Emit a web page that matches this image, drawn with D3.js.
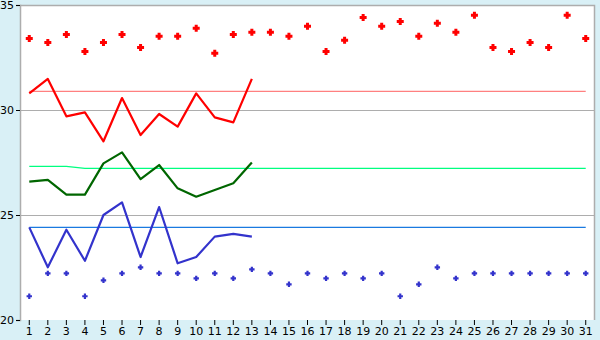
<!DOCTYPE html>
<html>
<head>
<meta charset="utf-8">
<script src="https://cdn.jsdelivr.net/npm/d3@7"></script>
<style>
  body { margin: 0; background: #d9f0f6; }
  svg { display: block; }
  .tick text { font-family: "DejaVu Sans", Verdana, sans-serif; font-size: 11px; fill: #000; }
</style>
</head>
<body>
<div class="chart"></div>
<script>
// days 1..31
var days = d3.range(1, 32);

// scatter series (top red, bottom blue)
var highPoints = [33.41, 33.22, 33.6, 32.79, 33.22, 33.6, 32.98, 33.51, 33.51, 33.89,
  32.7, 33.6, 33.7, 33.7, 33.51, 33.99, 32.79, 33.32, 34.41, 33.99,
  34.22, 33.51, 34.13, 33.7, 34.51, 32.98, 32.79, 33.22, 32.98, 34.51, 33.41];
var lowPoints = [21.13, 22.22, 22.22, 21.13, 21.89, 22.22, 22.51, 22.22, 22.22, 21.98,
  22.22, 21.98, 22.41, 22.22, 21.7, 22.22, 21.98, 22.22, 21.98, 22.22,
  21.13, 21.7, 22.51, 21.98, 22.22, 22.22, 22.22, 22.22, 22.22, 22.22, 22.22];

// line series, first 13 days
var maxLine = [30.79, 31.48, 29.7, 29.89, 28.51, 30.57, 28.81, 29.81, 29.21, 30.79, 29.65, 29.41, 31.48];
var avgLine = [26.59, 26.67, 25.97, 25.97, 27.46, 27.98, 26.71, 27.38, 26.27, 25.87, 26.19, 26.51, 27.5];
var minLine = [24.41, 22.51, 24.3, 22.82, 25.0, 25.6, 23.0, 25.38, 22.7, 23.0, 23.97, 24.1, 23.97];

// reference levels over the whole month
var maxRef = days.map(function () { return 30.89; });
var avgRef = days.map(function (d) { return d <= 3 ? 27.32 : 27.22; });
var minRef = days.map(function () { return 24.41; });

var yTicks = [20, 25, 30, 35];
var gridValues = [25, 30];

var margin = { top: 5, right: 5, bottom: 20, left: 20 };
var width = 600 - margin.left - margin.right;
var height = 340 - margin.top - margin.bottom;

var svg = d3.select('.chart')
  .append('svg')
    .attr('width', 600)
    .attr('height', 340)
  .append('g')
    .attr('transform', `translate(${margin.left}, ${margin.top})`);

var xScale = d3.scaleBand()
  .domain(days)
  .range([0, width]);

var xPos = d => xScale(d) + xScale.bandwidth() / 2;

var yScale = d3.scaleLinear()
  .domain([20, 35])
  .range([height, 0]);

// plot background
svg.append('rect')
  .attr('width', width)
  .attr('height', height)
  .style('fill', '#fff');

// grid
svg.selectAll('.grid')
  .data(gridValues)
  .enter()
  .append('line')
  .attr('x1', 0)
  .attr('x2', width)
  .attr('y1', d => Math.round(yScale(d)) + 0.5)
  .attr('y2', d => Math.round(yScale(d)) + 0.5)
  .style('stroke', '#adadad')
  .style('stroke-width', 1);

// frame: top + right
svg.append('path')
  .attr('d', `M0,0.5H${width - 0.5}V${height}`)
  .style('fill', 'none')
  .style('stroke', '#adadad')
  .style('stroke-width', 1.5);

// reference lines
var line = d3.line()
  .x((d, i) => xPos(days[i]))
  .y(d => yScale(d));

[[maxRef, '#ff8080'], [avgRef, '#00ff80'], [minRef, '#1a7ae0']].forEach(function (r) {
  svg.append('path')
    .attr('d', line(r[0]))
    .style('fill', 'none')
    .style('stroke', r[1])
    .style('stroke-width', 1.3);
});

// data lines
[[maxLine, '#ff0000'], [avgLine, '#006600'], [minLine, '#3333cc']].forEach(function (r) {
  svg.append('path')
    .attr('d', line(r[0]))
    .style('fill', 'none')
    .style('stroke', r[1])
    .style('stroke-width', 2.2)
    .style('stroke-linejoin', 'round');
});

// chunky plus marker: half length l, half arm width w
function plus(l, w) {
  return `M${-w},${-l}H${w}V${-w}H${l}V${w}H${w}V${l}H${-w}V${w}H${-l}V${-w}H${-w}Z`;
}

svg.selectAll('.hi')
  .data(highPoints)
  .enter()
  .append('path')
  .attr('d', plus(3.5, 1.5))
  .attr('transform', (d, i) => `translate(${xPos(days[i])}, ${yScale(d)})`)
  .style('fill', '#ff0000');

svg.selectAll('.lo')
  .data(lowPoints)
  .enter()
  .append('path')
  .attr('d', plus(2.7, 1.1))
  .attr('transform', (d, i) => `translate(${xPos(days[i])}, ${yScale(d)})`)
  .style('fill', '#3333cc');

// axes
var yAxis = svg.append('g')
  .call(d3.axisLeft(yScale).tickValues(yTicks).tickSize(4).tickPadding(2));
yAxis.select('.domain').style('stroke', '#adadad').style('stroke-width', 1.5);
yAxis.selectAll('.tick line').style('stroke', '#000');

var xAxis = svg.append('g')
  .attr('transform', `translate(0, ${height})`)
  .call(d3.axisBottom(xScale).tickSize(5).tickPadding(2));
xAxis.select('.domain').remove();
xAxis.selectAll('.tick line').style('stroke', '#000');
</script>
</body>
</html>
